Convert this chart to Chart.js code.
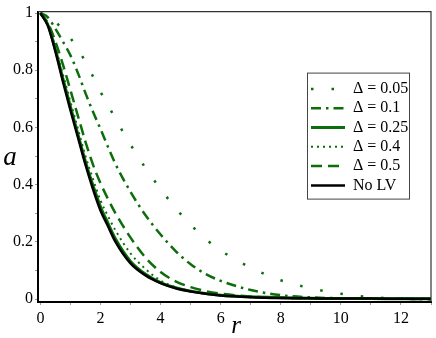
<!DOCTYPE html>
<html>
<head>
<meta charset="utf-8">
<script src="https://cdn.jsdelivr.net/npm/chart.js@4"></script>
<style>
  body { margin: 0; background: #fff; }
  #wrap { width: 436px; height: 338px; }
</style>
</head>
<body>
<div id="wrap"><canvas id="chart" width="436" height="338"></canvas></div>
<script>
// radius values shared by all curves
const rValues = [0, 0.25, 0.5, 0.75, 1, 1.25, 1.5, 1.75, 2, 2.25, 2.5, 3, 3.5, 4, 4.5, 5, 5.5, 6, 7, 8, 9, 10, 11, 12, 13];

// a(r)
const aDelta005 = [1, 0.99, 0.97, 0.94, 0.912, 0.872, 0.83, 0.778, 0.725, 0.678, 0.63, 0.54, 0.458, 0.385, 0.318, 0.26, 0.21, 0.17, 0.11, 0.066, 0.038, 0.019, 0.007, 0.002, 0.001];
const aDelta01  = [1, 0.985, 0.945, 0.9, 0.852, 0.79, 0.72, 0.655, 0.595, 0.532, 0.472, 0.375, 0.293, 0.226, 0.168, 0.122, 0.088, 0.064, 0.032, 0.014, 0.006, 0.003, 0.001, 0.001, 0];
const aDelta025 = [1, 0.958, 0.872, 0.77, 0.672, 0.575, 0.48, 0.397, 0.323, 0.265, 0.21, 0.132, 0.087, 0.058, 0.04, 0.028, 0.02, 0.014, 0.008, 0.005, 0.003, 0.002, 0.002, 0.001, 0.001];
const aDelta04  = [1, 0.96, 0.88, 0.785, 0.69, 0.595, 0.5, 0.42, 0.345, 0.29, 0.24, 0.16, 0.105, 0.065, 0.042, 0.028, 0.019, 0.013, 0.007, 0.004, 0.003, 0.002, 0.001, 0.001, 0];
const aDelta05  = [1, 0.965, 0.9, 0.82, 0.73, 0.64, 0.55, 0.47, 0.405, 0.35, 0.3, 0.215, 0.145, 0.095, 0.062, 0.042, 0.028, 0.019, 0.009, 0.005, 0.003, 0.002, 0.001, 0.001, 0];
const aNoLV     = [1, 0.955, 0.865, 0.76, 0.66, 0.565, 0.47, 0.385, 0.31, 0.255, 0.2, 0.125, 0.083, 0.056, 0.038, 0.027, 0.019, 0.013, 0.007, 0.004, 0.003, 0.002, 0.002, 0.001, 0.001];

const seriesLabels = ["\u0394 = 0.05", "\u0394 = 0.1", "\u0394 = 0.25", "\u0394 = 0.4", "\u0394 = 0.5", "No LV"];

const xTicks = [0, 1, 2, 3, 4, 5, 6, 7, 8, 9, 10, 11, 12, 13];
const yTicks = [0, 0.1, 0.2, 0.3, 0.4, 0.5, 0.6, 0.7, 0.8, 0.9, 1];

const green = "#0b6e0b";
const serif = "'Liberation Serif', 'DejaVu Serif', serif";

function pts(vals) {
    return rValues.map((r, i) => ({ x: r, y: vals[i] }));
}

function curve(label, vals, color, width, dash, order) {
    return {
        label: label,
        data: pts(vals),
        borderColor: color,
        backgroundColor: color,
        borderWidth: width,
        borderDash: dash,
        borderCapStyle: "butt",
        pointRadius: 0,
        pointStyle: "line",
        cubicInterpolationMode: "monotone",
        fill: false,
        order: order
    };
}

// axis letters, legend frame and plot frame
const extras = {
    id: "extras",
    afterLayout(chart) {
        const a = chart.chartArea, lg = chart.legend;
        lg.left = a.right - 123.3;
        lg.top = a.top + 66;
    },
    afterDraw(chart) {
        const ctx = chart.ctx, a = chart.chartArea;
        ctx.save();
        ctx.strokeStyle = "#333";
        ctx.lineWidth = 1.2;
        ctx.beginPath();
        ctx.moveTo(a.left, a.top);
        ctx.lineTo(a.right, a.top);
        ctx.lineTo(a.right, a.bottom);
        ctx.stroke();

        ctx.lineWidth = 1;
        ctx.strokeStyle = "#444";
        ctx.strokeRect(a.right - 123.5, a.top + 61.5, 102, 126);

        ctx.fillStyle = "#000";
        ctx.textAlign = "center";
        ctx.textBaseline = "alphabetic";
        ctx.font = "italic 27px " + serif;
        ctx.fillText("a", 10, 165);
        ctx.font = "italic 25px " + serif;
        ctx.fillText("r", 236, 333);
        ctx.restore();
    }
};

new Chart(document.getElementById("chart").getContext("2d"), {
    type: "line",
    data: {
        datasets: [
            curve(seriesLabels[0], aDelta005, green, 2.5, [2.5, 18], 0),
            curve(seriesLabels[1], aDelta01, green, 2.5, [10, 5, 2.5, 5], 0),
            curve(seriesLabels[2], aDelta025, green, 3, [], 0),
            curve(seriesLabels[3], aDelta04, green, 2, [2, 4], 0),
            curve(seriesLabels[4], aDelta05, green, 2.5, [11, 6], 0),
            curve(seriesLabels[5], aNoLV, "#000", 2.5, [], -1)
        ]
    },
    options: {
        responsive: false,
        animation: false,
        layout: { padding: { top: 6, right: 5, left: 0, bottom: 0 } },
        plugins: {
            tooltip: { enabled: false },
            legend: {
                position: "chartArea",
                align: "start",
                labels: {
                    usePointStyle: true,
                    pointStyleWidth: 34,
                    padding: 3.3,
                    color: "#000",
                    font: { family: serif, size: 16 },
                    generateLabels: chart => chart.data.datasets.map((ds, i) => ({
                        text: ds.label,
                        strokeStyle: ds.borderColor,
                        fillStyle: "rgba(0,0,0,0)",
                        lineWidth: ds.borderWidth,
                        lineDash: ds.borderDash,
                        lineCap: "butt",
                        pointStyle: "line",
                        fontColor: "#000",
                        hidden: false,
                        datasetIndex: i
                    }))
                }
            }
        },
        scales: {
            x: {
                type: "linear",
                min: -0.08,
                max: 13,
                afterBuildTicks: s => { s.ticks = xTicks.map(v => ({ value: v })); },
                afterFit: s => { s.height = 36; },
                grid: { drawOnChartArea: false, tickLength: 3, color: "#999" },
                border: { color: "#000", width: 2 },
                ticks: {
                    padding: 4,
                    maxRotation: 0,
                    autoSkip: false,
                    color: "#000",
                    font: { family: serif, size: 16 },
                    callback: v => (v % 2 === 0 ? String(v) : "")
                }
            },
            y: {
                min: -0.01,
                max: 1.005,
                afterBuildTicks: s => { s.ticks = yTicks.map(v => ({ value: v })); },
                afterFit: s => { s.width = 38; },
                grid: { drawOnChartArea: false, tickLength: 3, color: "#999" },
                border: { color: "#000", width: 2 },
                ticks: {
                    padding: 2,
                    autoSkip: false,
                    color: "#000",
                    font: { family: serif, size: 16 },
                    callback: v => (Math.round(v * 10) % 2 === 0 ? String(Math.round(v * 10) / 10) : "")
                }
            }
        }
    },
    plugins: [extras]
});
</script>
</body>
</html>
